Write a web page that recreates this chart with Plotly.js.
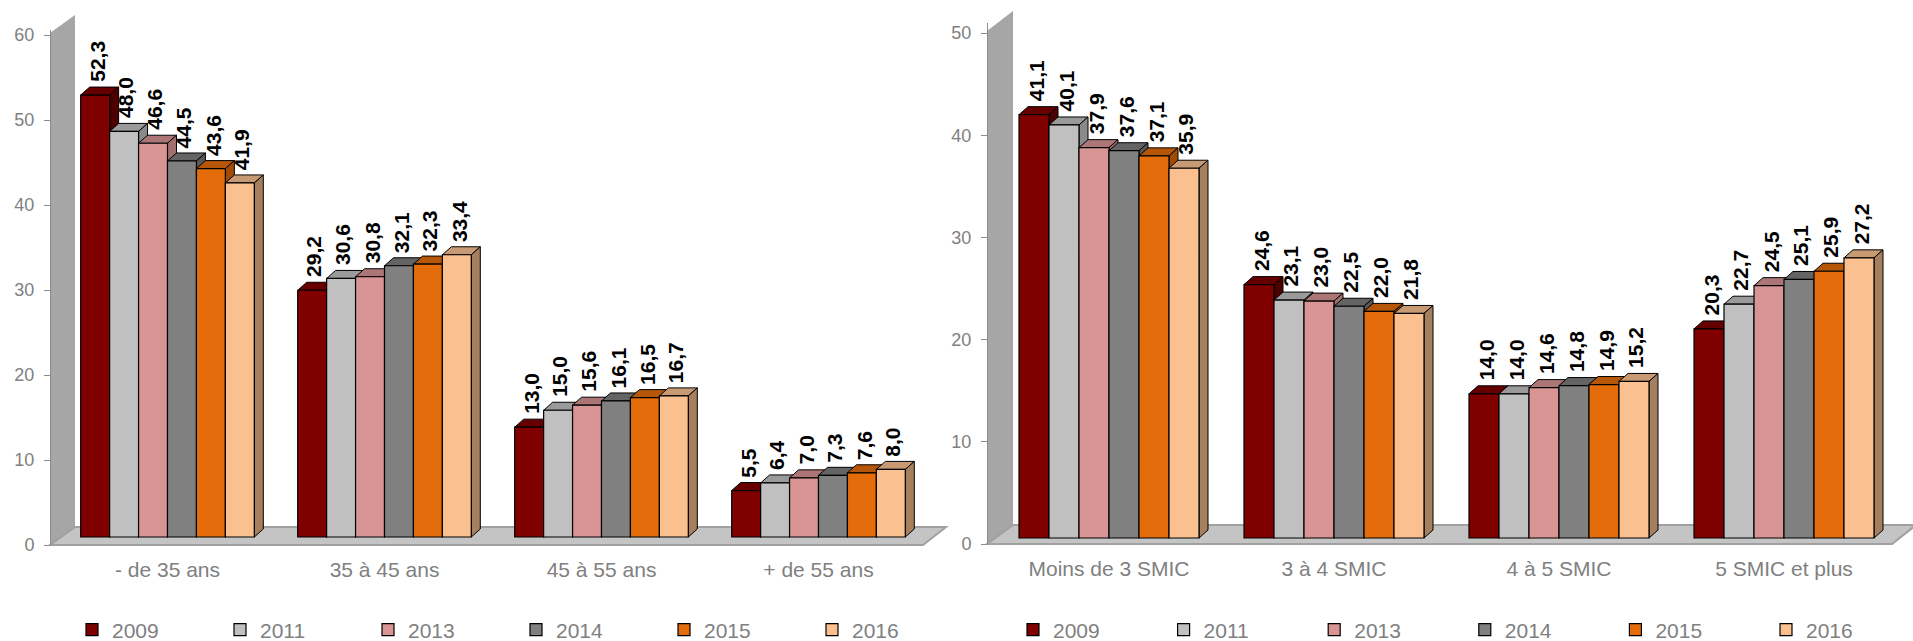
<!DOCTYPE html>
<html>
<head>
<meta charset="utf-8">
<script src="https://cdn.plot.ly/plotly-3.0.1.min.js"></script>
<style>
  html, body { margin: 0; padding: 0; background: #ffffff; }
  #chart { width: 1913px; height: 641px; }
</style>
</head>
<body>
<div id="chart"></div>
<script>
// Répartition par tranche d'âge et par niveau de salaire (en %)
const years = ['2009', '2011', '2013', '2014', '2015', '2016'];

const ageCategories = ['- de 35 ans', '35 à 45 ans', '45 à 55 ans', '+ de 55 ans'];
const age2009 = [52.3, 29.2, 13.0, 5.5];
const age2011 = [48.0, 30.6, 15.0, 6.4];
const age2013 = [46.6, 30.8, 15.6, 7.0];
const age2014 = [44.5, 32.1, 16.1, 7.3];
const age2015 = [43.6, 32.3, 16.5, 7.6];
const age2016 = [41.9, 33.4, 16.7, 8.0];

const salaryCategories = ['Moins de 3 SMIC', '3 à 4 SMIC', '4 à 5 SMIC', '5 SMIC et plus'];
const sal2009 = [41.1, 24.6, 14.0, 20.3];
const sal2011 = [40.1, 23.1, 14.0, 22.7];
const sal2013 = [37.9, 23.0, 14.6, 24.5];
const sal2014 = [37.6, 22.5, 14.8, 25.1];
const sal2015 = [37.1, 22.0, 14.9, 25.9];
const sal2016 = [35.9, 21.8, 15.2, 27.2];

const ageTicks = [0, 10, 20, 30, 40, 50, 60];
const salaryTicks = [0, 10, 20, 30, 40, 50];

// Couleurs : face avant, dessus, côté
const frontColors = ['#800000', '#c0c0c0', '#d99594', '#808080', '#e46c0a', '#fac090'];
const topColors   = ['#660000', '#9a9a9a', '#ad7676', '#646464', '#b65608', '#c89a73'];
const sideColors  = ['#4d0000', '#8a8a8a', '#a36f6f', '#585858', '#a04c07', '#a67f5e'];

const ageSeries = [age2009, age2011, age2013, age2014, age2015, age2016];
const salSeries = [sal2009, sal2011, sal2013, sal2014, sal2015, sal2016];

// Page geometry (pixels)
const W = 1913, H = 641;
const px = x => x / W;
const py = y => 1 - y / H;
const BARGAP = 0.2;
const GROUP = 1 - BARGAP;
const NS = years.length;
const DX = 9, DY = 8;           // profondeur de l'effet 3D

const panels = [
  {
    cats: ageCategories, series: ageSeries, ticks: ageTicks,
    xa: 'x', ya: 'y', yt: 'y3', legend: 'legend', legendX: 72, entry: 103,
    plotL: 59, plotR: 927, bottom: 545, base: 537, kY: 8.45, top: 30, tickK: 8.5,
    wallX0: 50, wallX1: 75, wallTop0: 33, wallTop1: 15, floorBack: 527, floorRightFront: 923, floorRightBack: 946
  },
  {
    cats: salaryCategories, series: salSeries, ticks: salaryTicks,
    xa: 'x2', ya: 'y2', yt: 'y4', legend: 'legend2', legendX: 1013, entry: 105.6,
    plotL: 996.5, plotR: 1896.5, bottom: 544, base: 538, kY: 10.3, top: 23, tickK: 10.22,
    wallX0: 987, wallX1: 1013, wallTop0: 31, wallTop1: 11, floorBack: 525, floorRightFront: 1892, floorRightBack: 1916
  }
];

const data = [];
const shapes = [];
const annotations = [];
const layout = {
  width: W, height: H,
  margin: {l: 0, r: 0, t: 0, b: 0, autoexpand: false},
  paper_bgcolor: '#ffffff',
  plot_bgcolor: 'rgba(0,0,0,0)',
  barmode: 'group',
  bargap: BARGAP,
  bargroupgap: 0,
  showlegend: true,
  font: {family: 'Liberation Sans, Arial, sans-serif', color: '#808080'}
};

function fmt(v) { return v.toFixed(1).replace('.', ','); }

panels.forEach((p, pi) => {
  const xKey = pi === 0 ? 'xaxis' : 'xaxis2';
  const yKey = pi === 0 ? 'yaxis' : 'yaxis2';
  const ytKey = pi === 0 ? 'yaxis3' : 'yaxis4';
  const domY = [py(p.bottom), py(p.top)];
  const spanPx = p.bottom - p.top;
  const zeroVal = -(p.bottom - p.base) / p.kY;
  const kX = (p.plotR - p.plotL) / p.cats.length;
  const barW = GROUP / NS;
  const barWpx = barW * kX;
  const xIdx = p.cats.map((c, i) => i);

  layout[xKey] = {
    domain: [px(p.plotL), px(p.plotR)],
    range: [-0.5, p.cats.length - 0.5],
    anchor: p.ya,
    tickvals: xIdx, ticktext: p.cats,
    ticks: '', showline: false, showgrid: false, zeroline: false,
    tickfont: {size: 21, color: '#808080'},
    ticklabelstandoff: 10,
    fixedrange: true
  };
  layout[yKey] = {
    domain: domY,
    range: [zeroVal, zeroVal + spanPx / p.kY],
    anchor: p.xa,
    visible: false,
    fixedrange: true
  };
  layout[ytKey] = {
    overlaying: p.ya,
    anchor: 'free',
    position: px(p.wallX0),
    side: 'left',
    range: [0, spanPx / p.tickK],
    tickvals: p.ticks,
    ticks: 'outside', ticklen: 6, tickcolor: '#8c8c8c', tickwidth: 1,
    showline: true, linecolor: '#8c8c8c', linewidth: 1,
    showgrid: false, zeroline: false,
    tickfont: {size: 18, color: '#808080'},
    ticklabelstandoff: 6,
    fixedrange: true
  };
  layout[p.legend] = {
    orientation: 'h',
    x: px(p.legendX), xanchor: 'left',
    y: py(630), yanchor: 'middle',
    entrywidth: p.entry, entrywidthmode: 'pixels',
    itemwidth: 30,
    font: {size: 21, color: '#808080'},
    bgcolor: 'rgba(0,0,0,0)',
    traceorder: 'normal'
  };

  // Mur et sol de la perspective
  const wallPath = 'M' + px(p.wallX0) + ',' + py(p.wallTop0) +
    ' L' + px(p.wallX1) + ',' + py(p.wallTop1) +
    ' L' + px(p.wallX1) + ',' + py(p.floorBack) +
    ' L' + px(p.wallX0) + ',' + py(p.bottom) + ' Z';
  shapes.push({type: 'path', xref: 'paper', yref: 'paper', layer: 'below', path: wallPath,
    fillcolor: '#a6a6a6', line: {width: 0}});
  const floorPath = 'M' + px(p.wallX0) + ',' + py(p.bottom) +
    ' L' + px(p.wallX1) + ',' + py(p.floorBack) +
    ' L' + px(p.floorRightBack) + ',' + py(p.floorBack) +
    ' L' + px(p.floorRightFront) + ',' + py(p.bottom) + ' Z';
  shapes.push({type: 'path', xref: 'paper', yref: 'paper', layer: 'below', path: floorPath,
    fillcolor: '#c4c4c4', line: {color: '#a0a0a0', width: 2}});

  // Barres
  p.series.forEach((vals, j) => {
    data.push({
      type: 'bar', name: years[j],
      x: xIdx, y: vals,
      xaxis: p.xa, yaxis: p.ya,
      legend: p.legend,
      marker: {color: frontColors[j], line: {color: '#000000', width: 1.2}},
      hoverinfo: 'skip'
    });
    vals.forEach((v, i) => {
      const left = i - GROUP / 2 + j * barW;
      const right = left + barW;
      const hPx = v * p.kY;
      // dessus
      shapes.push({
        type: 'path', xref: p.xa, yref: p.ya, layer: 'below',
        xsizemode: 'pixel', ysizemode: 'pixel', xanchor: left, yanchor: v,
        path: 'M0,0 L' + DX + ',' + DY + ' L' + (barWpx + DX) + ',' + DY + ' L' + barWpx + ',0 Z',
        fillcolor: topColors[j], line: {color: '#000000', width: 1}
      });
      // côté
      shapes.push({
        type: 'path', xref: p.xa, yref: p.ya, layer: 'below',
        xsizemode: 'pixel', ysizemode: 'pixel', xanchor: right, yanchor: v,
        path: 'M0,0 L' + DX + ',' + DY + ' L' + DX + ',' + (DY - hPx) + ' L0,' + (-hPx) + ' Z',
        fillcolor: sideColors[j], line: {color: '#000000', width: 1}
      });
      // étiquette de valeur
      annotations.push({
        xref: p.xa, yref: p.ya, x: left + barW / 2, y: v,
        text: fmt(v), showarrow: false, textangle: -90,
        xanchor: 'center', yanchor: 'bottom', yshift: 11, xshift: 2,
        font: {family: 'Liberation Sans, Arial, sans-serif', size: 21, color: '#000000', weight: 'bold'}
      });
    });
  });

  // trace vide qui porte l'axe des graduations
  data.push({type: 'scatter', x: [], y: [], xaxis: p.xa, yaxis: p.yt,
    showlegend: false, hoverinfo: 'skip'});
});

layout.shapes = shapes;
layout.annotations = annotations;

Plotly.newPlot('chart', data, layout, {staticPlot: true, displayModeBar: false});
</script>
</body>
</html>
